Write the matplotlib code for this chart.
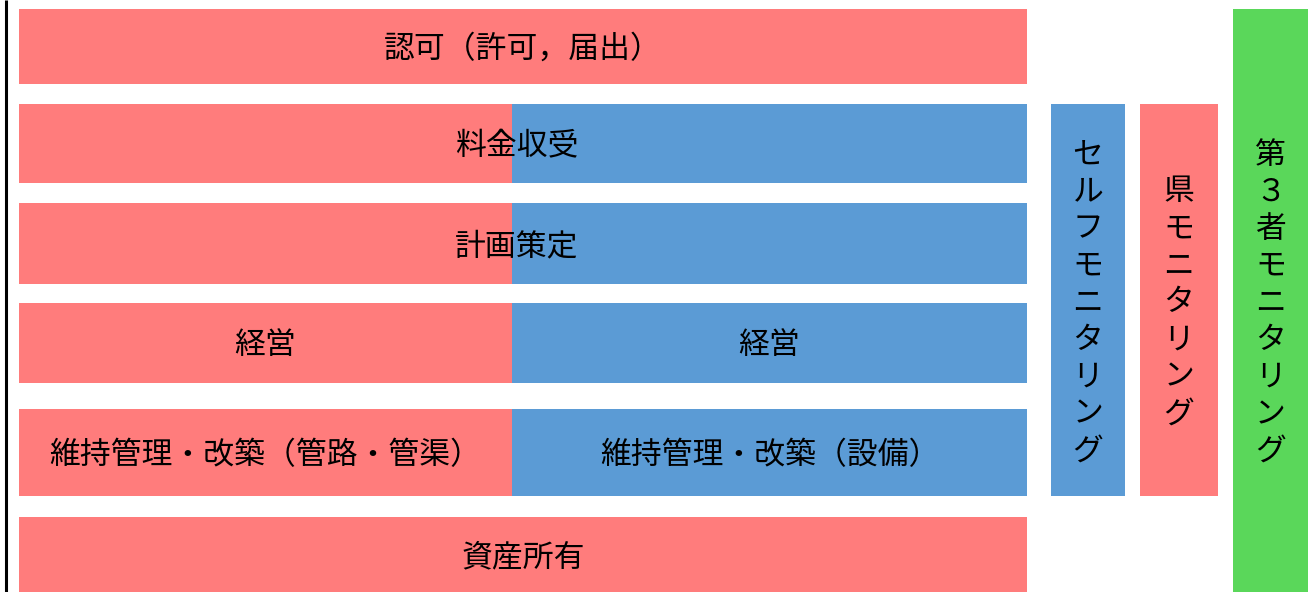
import matplotlib
matplotlib.use("Agg")
import matplotlib.pyplot as plt
from matplotlib.patches import Rectangle

plt.rcParams['font.family'] = ['Noto Sans CJK JP', 'DejaVu Sans']

RED = '#FF7C7C'
BLUE = '#5B9BD5'
GREEN = '#5AD75A'

# Horizontal rows
row_labels_left = ['認可（許可，届出）', '料金収受', '計画策定', '経営', '維持管理・改築（管路・管渠）', '資産所有']
row_labels_right = [None, None, None, '経営', '維持管理・改築（設備）', None]
row_split = [False, True, True, True, True, False]
row_center_label = [True, True, True, False, False, True]

# Layout in pixel units
row_top = [9, 104, 203, 303, 409, 517]
row_bottom = [84, 183, 284, 383, 496, 592]
row_label_x = [523, 517, 517, None, None, 523]
x_left, x_split, x_right = 19, 512, 1027

# Vertical monitoring columns
col_labels = ['セルフモニタリング', '県モニタリング', '第３者モニタリング']
col_colors = [BLUE, RED, GREEN]
col_x0 = [1051, 1140, 1233]
col_x1 = [1125, 1218, 1308]
col_y0 = [104, 104, 9]
col_y1 = [496, 496, 592]

W, H = 1308, 592
fig = plt.figure(figsize=(W / 100, H / 100), dpi=100)
ax = fig.add_axes([0, 0, 1, 1])
ax.set_xlim(0, W)
ax.set_ylim(H, 0)
ax.axis('off')

FS = 22.2
DY = 3

ax.plot([6, 6], [0, H], color='black', lw=2.2, solid_capstyle='butt')

for i in range(len(row_labels_left)):
    y0, y1 = row_top[i], row_bottom[i]
    yc = (y0 + y1) / 2 + DY
    if row_split[i]:
        ax.add_patch(Rectangle((x_left, y0), x_split - x_left, y1 - y0, color=RED, lw=0))
        ax.add_patch(Rectangle((x_split, y0), x_right - x_split, y1 - y0, color=BLUE, lw=0))
    else:
        ax.add_patch(Rectangle((x_left, y0), x_right - x_left, y1 - y0, color=RED, lw=0))
    if row_center_label[i]:
        ax.text(row_label_x[i], yc, row_labels_left[i], ha='center', va='center', fontsize=FS)
    else:
        ax.text((x_left + x_split) / 2, yc, row_labels_left[i], ha='center', va='center', fontsize=FS)
        ax.text((x_split + x_right) / 2, yc, row_labels_right[i], ha='center', va='center', fontsize=FS)

spacing = 37
for lab, c, x0, x1, y0, y1 in zip(col_labels, col_colors, col_x0, col_x1, col_y0, col_y1):
    ax.add_patch(Rectangle((x0, y0), x1 - x0, y1 - y0, color=c, lw=0))
    xc = (x0 + x1) / 2
    yc = (y0 + y1) / 2 + DY
    n = len(lab)
    start = yc - (n - 1) / 2 * spacing
    for k, ch in enumerate(lab):
        ax.text(xc, start + k * spacing, ch, ha='center', va='center', fontsize=FS)

fig.savefig('out.png', dpi=100)
